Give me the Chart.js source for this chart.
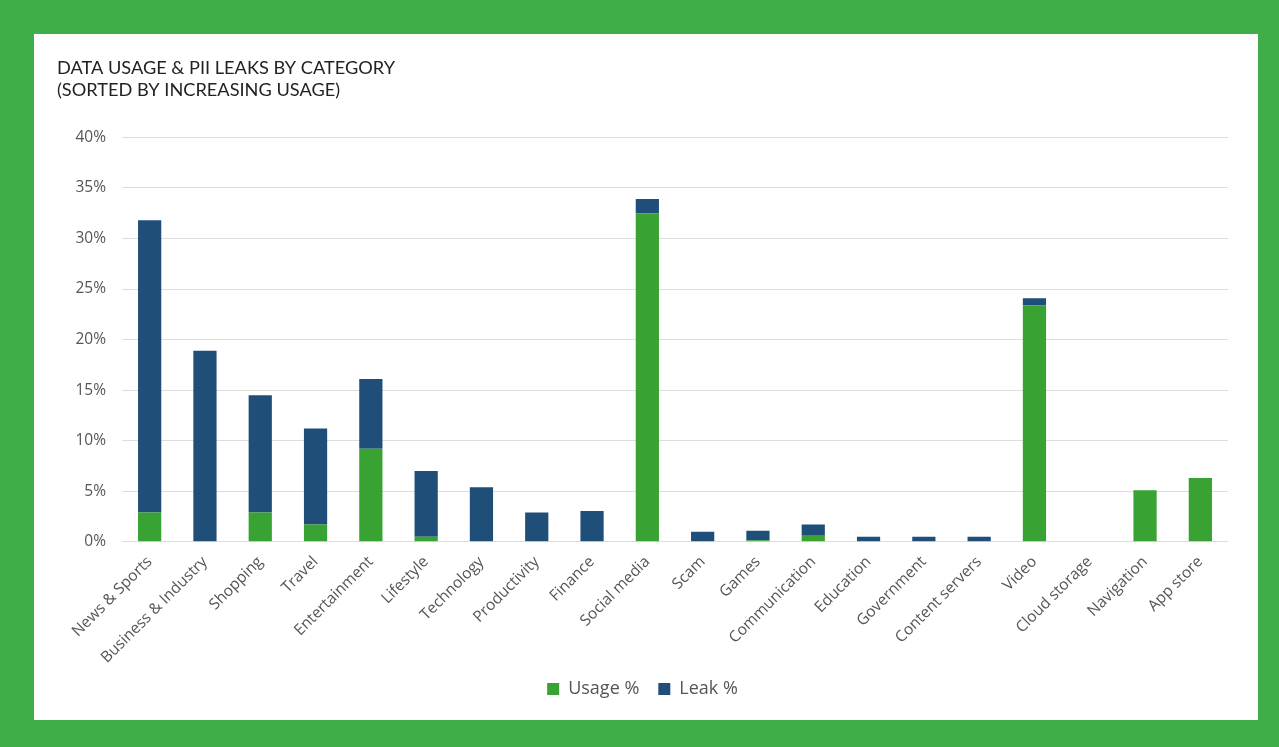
<!DOCTYPE html>
<html>
<head>
<meta charset="utf-8">
<script src="https://cdn.jsdelivr.net/npm/chart.js@4"></script>
<style>
  html, body { margin: 0; padding: 0; }
  body { width: 1279px; height: 747px; background: #3fae4a; position: relative; overflow: hidden; }
  #panel { position: absolute; left: 34px; top: 34px; width: 1224px; height: 686px; background: #fff; }
</style>
</head>
<body>
<div id="panel"><canvas id="myChart" width="1224" height="686"></canvas></div>
<script>
/* datos del grafico */
const categories = ['News & Sports', 'Business & Industry', 'Shopping', 'Travel', 'Entertainment',
  'Lifestyle', 'Technology', 'Productivity', 'Finance', 'Social media', 'Scam', 'Games',
  'Communication', 'Education', 'Government', 'Content servers', 'Video', 'Cloud storage',
  'Navigation', 'App store'];
const usage = [2.9, 0, 2.9, 1.7, 9.2, 0.5, 0, 0, 0, 32.5, 0, 0.15, 0.6, 0, 0, 0, 23.4, 0, 5.1, 6.3];
const leak = [28.9, 18.9, 11.6, 9.5, 6.9, 6.5, 5.4, 2.9, 3.05, 1.4, 1.0, 0.95, 1.1, 0.5, 0.5, 0.5, 0.7, 0, 0, 0];
const yTicks = [0, 5, 10, 15, 20, 25, 30, 35, 40];

const GREEN = '#38a232';
const BLUE = '#1f4e79';

const ctx = document.getElementById('myChart');

const dataset = {
  labels: categories,
  datasets: [
    { label: 'Usage %', data: usage, backgroundColor: GREEN },
    { label: 'Leak %', data: leak, backgroundColor: BLUE }
  ]
};

const config = {
  type: 'bar',
  data: dataset,
  options: {
    responsive: false,
    animation: false,
    datasets: { bar: { categoryPercentage: 1, barPercentage: 0.42 } },
    layout: { padding: { left: 23, right: 30, top: 23, bottom: 12 } },
    plugins: {
      title: {
        display: true,
        align: 'start',
        text: ['DATA USAGE & PII LEAKS BY CATEGORY', '(SORTED BY INCREASING USAGE)'],
        color: '#222',
        font: { family: 'Lato', size: 18.2, weight: 'normal', lineHeight: 1.22 },
        padding: { top: 0, bottom: 36 }
      },
      legend: {
        position: 'bottom',
        labels: {
          color: '#555',
          boxWidth: 12, boxHeight: 12,
          padding: 10,
          font: { family: 'Open Sans', size: 18 },
          /* un poco mas de espacio entre los dos items */
          generateLabels: (chart) => {
            const items = Chart.defaults.plugins.legend.labels.generateLabels(chart);
            items[0].text = items[0].text + '\u2002';
            return items;
          }
        }
      },
      tooltip: { enabled: false }
    },
    scales: {
      x: {
        stacked: true,
        grid: { display: false },
        border: { display: false },
        ticks: {
          color: '#555',
          minRotation: 45, maxRotation: 45,
          padding: 3,
          font: { family: 'Open Sans', size: 15.5 }
        }
      },
      y: {
        stacked: true,
        min: 0, max: 40,
        afterBuildTicks: (s) => { s.ticks = yTicks.map(v => ({ value: v })); },
        afterFit: (s) => { s.width = 65; },
        grid: { color: '#dddddd', lineWidth: 1, drawTicks: false },
        border: { display: false },
        ticks: {
          color: '#555',
          padding: 16,
          font: { family: 'Open Sans', size: 15.5 },
          callback: (v) => v + '%'
        }
      }
    }
  }
};

const chart = new Chart(ctx, config);
</script>
</body>
</html>
